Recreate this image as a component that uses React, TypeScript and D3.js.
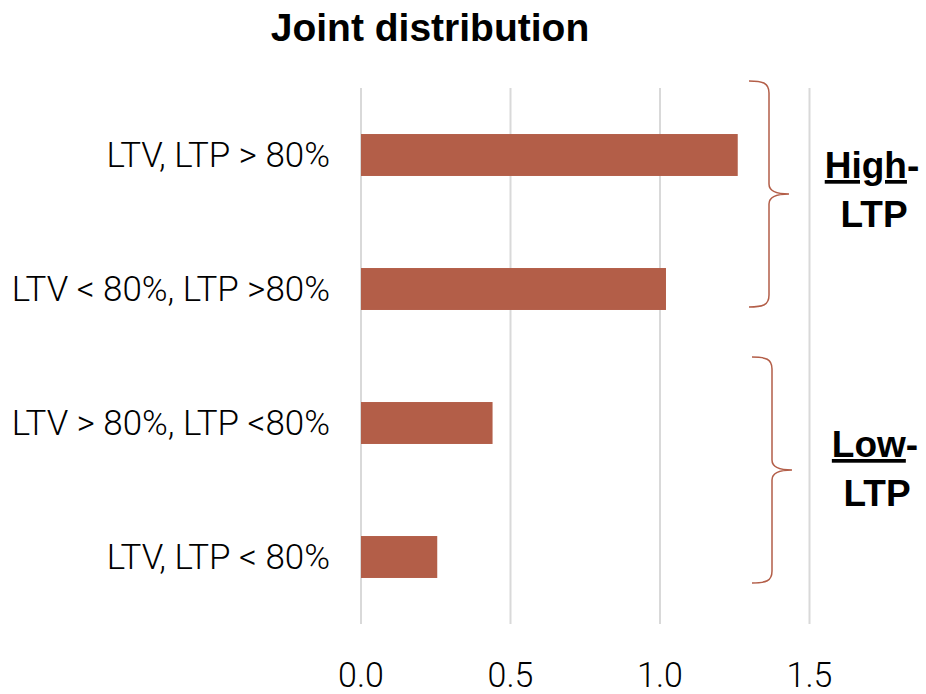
import React from "react";
import * as d3 from "d3";

// Category labels (top to bottom) and their values
const categories: string[] = [
  "LTV, LTP > 80%",
  "LTV < 80%, LTP >80%",
  "LTV > 80%, LTP <80%",
  "LTV, LTP < 80%",
];
const values: number[] = [1.26, 1.02, 0.44, 0.255];
const tickValues: number[] = [0, 0.5, 1.0, 1.5];
const groupNames: string[] = ["High", "Low"];
const groupSuffix: string = "LTP";

const W = 926;
const H = 694;
const BAR_COLOR = "#b35e48";
const GRID_COLOR = "#d9d9d9";
const LIGHT_FONT = "Roboto, 'Liberation Sans', sans-serif";
const BOLD_FONT = "'Liberation Sans', Arial, Helvetica, sans-serif";
const SQUEEZE = 0.97;

// Brace layout for each group
const braceLayout = [
  { top: 81, bottom: 307, x0: 749, x1: 769, tip: 789, labelX: 872, labelY: 178 },
  { top: 357, bottom: 583, x0: 752, x1: 772, tip: 792, labelX: 875, labelY: 457 },
];

function bracePath(b: { top: number; bottom: number; x0: number; x1: number; tip: number }) {
  const mid = (b.top + b.bottom) / 2;
  const p = d3.path();
  p.moveTo(b.x0, b.top);
  p.bezierCurveTo(b.x1 - 6, b.top, b.x1, b.top + 2, b.x1, b.top + 12);
  p.lineTo(b.x1, mid - 10);
  p.bezierCurveTo(b.x1, mid - 3, b.x1 + 6, mid, b.tip, mid);
  p.bezierCurveTo(b.x1 + 6, mid, b.x1, mid + 3, b.x1, mid + 10);
  p.lineTo(b.x1, b.bottom - 12);
  p.bezierCurveTo(b.x1, b.bottom - 2, b.x1 - 6, b.bottom, b.x0, b.bottom);
  return p.toString();
}

export default function App() {
  const plotTop = 88;
  const plotBottom = 624;
  const x = d3.scaleLinear().domain([0, 1.5]).range([361, 809.5]);
  const y = d3
    .scaleBand<string>()
    .domain(categories)
    .range([plotTop, plotBottom])
    .paddingInner(0.687)
    .paddingOuter(0.3435);

  return (
    <svg
      width={W}
      height={H}
      viewBox={`0 0 ${W} ${H}`}
      style={{ position: "absolute", left: 0, top: 0, background: "#fff" }}
    >
      <rect x={0} y={0} width={W} height={H} fill="#fff" />
      <text
        x={430}
        y={41}
        textAnchor="middle"
        fontFamily={BOLD_FONT}
        fontWeight="bold"
        fontSize={39}
        fill="#000"
      >
        Joint distribution
      </text>

      {/* vertical gridlines */}
      {tickValues.map((t) => (
        <line
          key={`g${t}`}
          x1={x(t)}
          x2={x(t)}
          y1={plotTop}
          y2={plotBottom}
          stroke={GRID_COLOR}
          strokeWidth={2}
        />
      ))}

      {/* bars */}
      {categories.map((c, i) => (
        <rect
          key={c}
          x={x(0)}
          y={y(c)!}
          width={x(values[i]) - x(0)}
          height={y.bandwidth()}
          fill={BAR_COLOR}
        />
      ))}

      {/* category labels */}
      {categories.map((c) => (
        <text
          key={`l${c}`}
          transform={`translate(330, ${y(c)! + y.bandwidth() / 2 + 12}) scale(${SQUEEZE},1)`}
          textAnchor="end"
          fontFamily={LIGHT_FONT}
          fontWeight={300}
          fontSize={36}
          fill="#000"
        >
          {c}
        </text>
      ))}

      {/* x tick labels */}
      {tickValues.map((t) => (
        <text
          key={`t${t}`}
          transform={`translate(${x(t)}, 687) scale(${SQUEEZE},1)`}
          textAnchor="middle"
          fontFamily={LIGHT_FONT}
          fontWeight={300}
          fontSize={35}
          fill="#000"
        >
          {d3.format(".1f")(t)}
        </text>
      ))}

      {/* group braces and labels */}
      {braceLayout.map((b, i) => (
        <g key={`b${i}`}>
          <path d={bracePath(b)} fill="none" stroke={BAR_COLOR} strokeWidth={1.5} />
          <text
            x={b.labelX}
            y={b.labelY}
            textAnchor="middle"
            fontFamily={BOLD_FONT}
            fontWeight="bold"
            fontSize={37}
            fill="#000"
          >
            <tspan style={{ textDecoration: "underline" }}>{groupNames[i]}</tspan>
            <tspan>-</tspan>
          </text>
          <text
            x={b.labelX + 2}
            y={b.labelY + 49}
            textAnchor="middle"
            fontFamily={BOLD_FONT}
            fontWeight="bold"
            fontSize={37}
            fill="#000"
          >
            {groupSuffix}
          </text>
        </g>
      ))}
    </svg>
  );
}
